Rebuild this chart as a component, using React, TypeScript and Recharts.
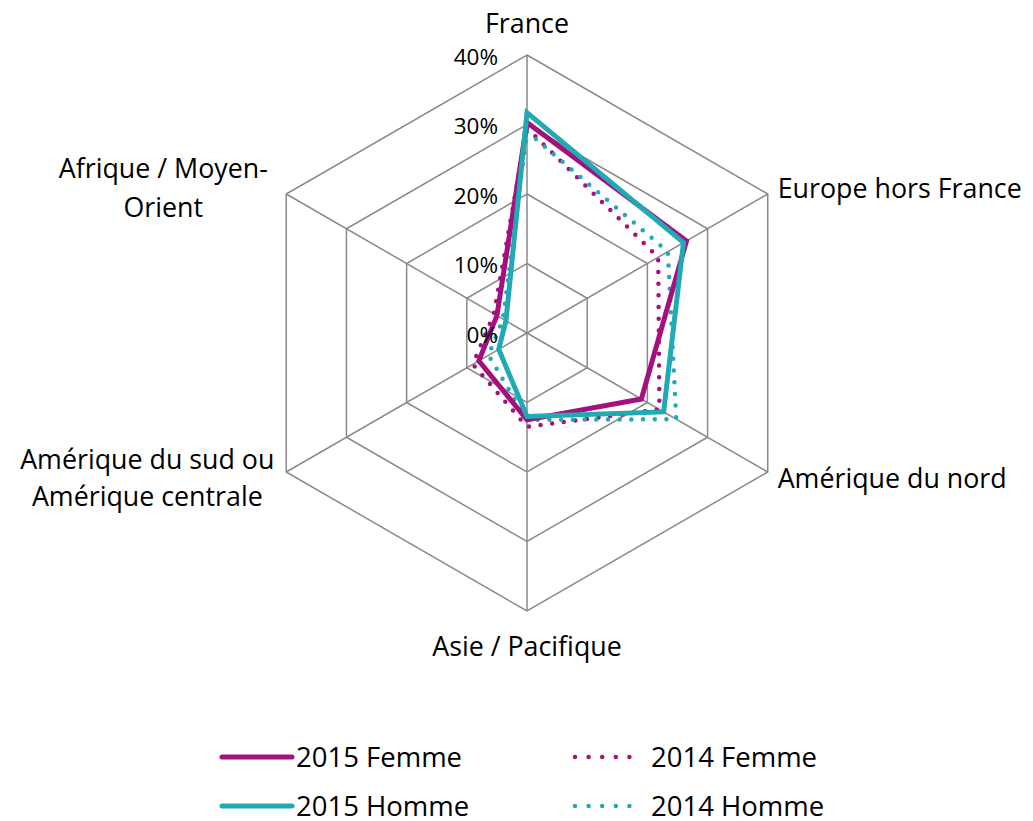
import {
  Legend,
  PolarAngleAxis,
  PolarGrid,
  PolarRadiusAxis,
  Radar,
  RadarChart,
} from "recharts";

const categories = [
  "France",
  "Europe hors France",
  "Amérique du nord",
  "Asie / Pacifique",
  "Amérique du sud ou Amérique centrale",
  "Afrique / Moyen-Orient",
];

// values in %
const femme2015 = [30.3, 26.5, 19, 12.5, 8, 5];
const homme2015 = [31.7, 26, 22.7, 12, 4.7, 3.5];
const femme2014 = [29.5, 21.8, 22, 13.5, 9, 5.5];
const homme2014 = [29, 23.4, 24.8, 12.5, 6.4, 4];

const radiusMax = 40;
const radiusTickCount = 5;

const labelLines: Record<string, string[]> = {
  "Amérique du sud ou Amérique centrale": ["Amérique du sud ou", "Amérique centrale"],
  "Afrique / Moyen-Orient": ["Afrique / Moyen-", "Orient"],
};

const MAGENTA = "#a4117f";
const CYAN = "#21a9b4";
const FONT = "'Open Sans', sans-serif";

const W = 1017;
const H = 813;

const data = categories.map((name, i) => ({
  name,
  f2015: femme2015[i],
  h2015: homme2015[i],
  f2014: femme2014[i],
  h2014: homme2014[i],
}));

// drawing order: dotted first, solid on top
const series = [
  { key: "f2014", name: "2014 Femme", color: MAGENTA, dotted: true },
  { key: "h2014", name: "2014 Homme", color: CYAN, dotted: true },
  { key: "f2015", name: "2015 Femme", color: MAGENTA, dotted: false },
  { key: "h2015", name: "2015 Homme", color: CYAN, dotted: false },
];

const legendOrder = ["f2015", "f2014", "h2015", "h2014"];

// label placement relative to the point recharts gives for each category
const labelPos = [
  { dx: 0, dy: [-25], anchor: "middle" },
  { dx: 3, dy: [-2.5], anchor: "start" },
  { dx: 3, dy: [1.5], anchor: "start" },
  { dx: 0, dy: [26.5], anchor: "middle" },
  { dx: -132, dy: [-18, 19], anchor: "middle" },
  { dx: -116, dy: [-22.5, 16], anchor: "middle" },
];

function AngleTick(props: any) {
  const { x, y, payload, index } = props;
  const pos = labelPos[index] ?? { dx: 0, dy: [0], anchor: "middle" };
  const lines = labelLines[payload.value] ?? [payload.value];
  return (
    <g>
      {lines.map((line, i) => (
        <text
          key={i}
          x={x + pos.dx}
          y={y + (pos.dy[i] ?? 0)}
          textAnchor={pos.anchor}
          dominantBaseline="central"
          fontSize={26.8}
          fontFamily={FONT}
          fill="#000"
        >
          {line}
        </text>
      ))}
    </g>
  );
}

function RadiusTick(props: any) {
  const { x, y, payload } = props;
  return (
    <text
      x={x - 29}
      y={y + 1}
      textAnchor="end"
      dominantBaseline="central"
      fontSize={22.5}
      fontFamily={FONT}
      fill="#000"
    >
      {`${payload.value}%`}
    </text>
  );
}

function LegendContent() {
  const items = legendOrder.map((k) => series.find((s) => s.key === k)!);
  return (
    <div style={{ position: "relative", width: W, height: 84 }}>
      {items.map((s, i) => (
        <div
          key={s.key}
          style={{
            position: "absolute",
            left: i % 2 === 0 ? 210 : 563,
            top: i < 2 ? 5 : 54,
            display: "flex",
            alignItems: "center",
            height: 30,
          }}
        >
          <svg width={78} height={12}>
            <line
              x1={4}
              y1={6}
              x2={s.dotted ? 72 : 74}
              y2={6}
              stroke={s.color}
              strokeWidth={s.dotted ? 4.5 : 5}
              strokeLinecap="round"
              strokeDasharray={s.dotted ? "0 13.6" : undefined}
            />
          </svg>
          <span
            style={{
              fontFamily: FONT,
              fontSize: 27.5,
              lineHeight: "30px",
              color: "#000",
              marginLeft: s.dotted ? 2 : 0,
              whiteSpace: "nowrap",
            }}
          >
            {s.name}
          </span>
        </div>
      ))}
    </div>
  );
}

export default function App() {
  return (
    <div style={{ width: W, height: H, fontFamily: FONT }}>
      <RadarChart
        width={W}
        height={H}
        data={data}
        cx={519}
        cy={325}
        outerRadius={278}
        margin={{ top: 0, right: 0, bottom: 0, left: 0 }}
      >
        <PolarGrid gridType="polygon" stroke="#8a8a8a" strokeWidth={1.5} />
        <PolarAngleAxis
          dataKey="name"
          tick={<AngleTick />}
          tickLine={false}
          axisLine={false}
        />
        <PolarRadiusAxis
          angle={90}
          domain={[0, radiusMax]}
          tickCount={radiusTickCount}
          tick={<RadiusTick />}
          axisLine={false}
          tickLine={false}
        />
        {series.map((s) => (
          <Radar
            key={s.key}
            dataKey={s.key}
            name={s.name}
            stroke={s.color}
            strokeWidth={s.dotted ? 4.5 : 5}
            strokeLinecap="round"
            strokeLinejoin="miter"
            strokeDasharray={s.dotted ? "0 11.7" : undefined}
            fill="none"
            fillOpacity={0}
            dot={false}
            isAnimationActive={false}
          />
        ))}
        <Legend
          verticalAlign="bottom"
          content={<LegendContent />}
          wrapperStyle={{ left: 0, top: 729, width: W }}
        />
      </RadarChart>
    </div>
  );
}
